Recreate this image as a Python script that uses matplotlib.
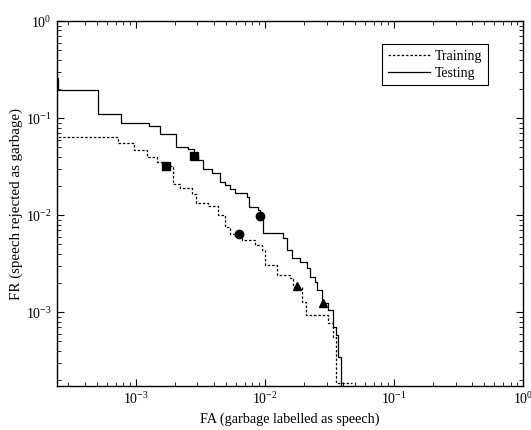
import matplotlib
matplotlib.use("Agg")
import matplotlib.pyplot as plt
import numpy as np

plt.rcParams['font.family'] = ['Liberation Serif', 'DejaVu Serif']
plt.rcParams['mathtext.fontset'] = 'custom'
plt.rcParams['mathtext.rm'] = 'Liberation Serif'
plt.rcParams['mathtext.it'] = 'Liberation Serif:italic'

# Testing curve (step: FR value applies from each FA value onward)
test_fa = [2.30e-4, 2.47e-4, 5.07e-4, 7.65e-4, 1.26e-3, 1.53e-3, 2.04e-3, 2.53e-3,
           2.82e-3, 3.03e-3, 3.31e-3, 3.88e-3, 4.48e-3, 4.90e-3, 5.35e-3, 5.85e-3,
           7.24e-3, 7.51e-3, 8.83e-3, 9.15e-3, 9.65e-3, 1.38e-2, 1.48e-2, 1.62e-2,
           1.87e-2, 2.12e-2, 2.23e-2, 2.44e-2, 2.53e-2, 2.77e-2, 3.08e-2, 3.37e-2,
           3.55e-2, 3.68e-2, 3.88e-2]
test_fr = [0.258, 0.194, 0.110, 0.0888, 0.0827, 0.0684, 0.0502, 0.0480,
           0.0406, 0.0369, 0.0298, 0.0271, 0.0222, 0.0204, 0.0188, 0.0169,
           0.0153, 0.0121, 0.0113, 0.00977, 0.00652, 0.00579, 0.00436, 0.00360,
           0.00328, 0.00284, 0.00230, 0.00204, 0.00169, 0.00124, 0.00105, 7.0e-4,
           5.79e-4, 3.44e-4, 1.0e-4]

# Training curve
train_fa = [2.30e-4, 7.25e-4, 9.64e-4, 1.22e-3, 1.46e-3, 1.62e-3, 1.94e-3, 2.19e-3,
            2.72e-3, 2.92e-3, 3.62e-3, 4.33e-3, 4.90e-3, 5.35e-3, 6.63e-3, 8.36e-3,
            9.48e-3, 1.00e-2, 1.24e-2, 1.56e-2, 1.65e-2, 1.94e-2, 2.08e-2, 3.08e-2,
            3.37e-2, 3.55e-2, 4.72e-2]
train_fr = [0.0637, 0.0552, 0.0468, 0.0396, 0.0352, 0.0320, 0.0209, 0.0190,
            0.0165, 0.0133, 0.0124, 0.0100, 0.0075, 0.00637, 0.00552, 0.00491,
            0.00436, 0.00305, 0.00241, 0.00224, 0.00181, 0.00127, 9.31e-4, 7.7e-4,
            5.52e-4, 1.85e-4, 1.85e-4]

# Operating-point markers
test_mark_fa = [2.82e-3, 9.15e-3, 2.80e-2]
test_mark_fr = [0.0406, 0.00977, 0.00124]
train_mark_fa = [1.71e-3, 6.28e-3, 1.77e-2]
train_mark_fr = [0.0320, 0.00637, 0.00185]
marker_shapes = ['s', 'o', '^']

fig = plt.figure(figsize=(5.31, 4.30), dpi=100)
ax = fig.add_axes([0.107, 0.102, 0.878, 0.849])

ax.plot(train_fa, train_fr, drawstyle='steps-post', color='black', lw=0.9,
        linestyle=(0, (2, 1.5)), label='Training')
ax.plot(test_fa, test_fr, drawstyle='steps-post', color='black', lw=0.9,
        linestyle='-', label='Testing')

for m, xa, ya, xb, yb in zip(marker_shapes, train_mark_fa, train_mark_fr,
                             test_mark_fa, test_mark_fr):
    ax.plot([xa], [ya], marker=m, color='black', ms=6, linestyle='none')
    ax.plot([xb], [yb], marker=m, color='black', ms=6, linestyle='none')

ax.set_xscale('log')
ax.set_yscale('log')
ax.set_xlim(2.44e-4, 1.0)
ax.set_ylim(1.73e-4, 1.0)

ax.tick_params(which='both', direction='in', top=True, right=True, labelsize=10)
ax.tick_params(which='major', length=5, width=0.8)
ax.tick_params(which='minor', length=3, width=0.6)
for s in ax.spines.values():
    s.set_linewidth(1.0)

ax.set_xlabel('FA (garbage labelled as speech)', fontsize=10.2)
ax.set_ylabel('FR (speech rejected as garbage)', fontsize=10.8, labelpad=2)

leg = ax.legend(loc='upper right', bbox_to_anchor=(0.925, 0.937), fancybox=False,
                edgecolor='black', framealpha=1, fontsize=10, handlelength=3.0,
                borderpad=0.4, labelspacing=0.3, handletextpad=0.4, borderaxespad=0)
leg.get_frame().set_linewidth(0.8)

fig.savefig('out.png', dpi=100)
